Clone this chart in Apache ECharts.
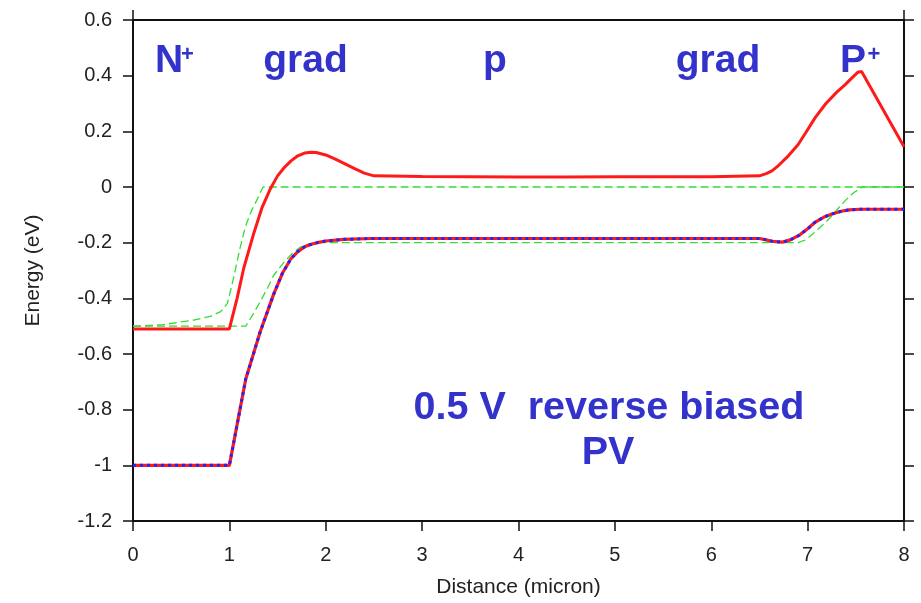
<!DOCTYPE html>
<html>
<head>
<meta charset="utf-8">
<title>Band diagram - 0.5 V reverse biased PV</title>
<script src="https://cdn.jsdelivr.net/npm/echarts@6/dist/echarts.min.js"></script>
<style>
  html, body { margin: 0; padding: 0; background: #fff; }
  #chart { width: 921px; height: 603px; }
</style>
</head>
<body>
<div id="chart"></div>
<script>
// Axis tick values
var xTicks = [0, 1, 2, 3, 4, 5, 6, 7, 8];
var yTicks = [-1.2, -1, -0.8, -0.6, -0.4, -0.2, 0, 0.2, 0.4, 0.6];

// Conduction band edge under bias (eV)
var ecX = [0, 1.0, 1.08, 1.15, 1.25, 1.34, 1.42, 1.5, 1.57, 1.64, 1.71, 1.78, 1.85, 1.9, 2.0, 2.1, 2.2, 2.3, 2.4, 2.5,
           3.0, 3.5, 4.0, 4.5, 5.0, 5.5, 6.0, 6.5, 6.57, 6.63, 6.7, 6.8, 6.9, 6.98, 7.08, 7.19, 7.3, 7.39, 7.46, 7.52, 7.56, 8.0];
var ecY = [-0.51, -0.51, -0.4, -0.29, -0.17, -0.073, -0.01, 0.04, 0.07, 0.094, 0.112, 0.122, 0.125, 0.124, 0.115, 0.1, 0.083, 0.066, 0.05, 0.04,
           0.038, 0.037, 0.036, 0.036, 0.037, 0.037, 0.037, 0.04, 0.048, 0.058, 0.078, 0.112, 0.152, 0.195, 0.25, 0.30, 0.34, 0.368, 0.392, 0.412, 0.415, 0.145];

// Valence band edge under bias (eV)
var evX = [0, 1.0, 1.17, 1.32, 1.46, 1.55, 1.64, 1.71, 1.78, 1.85, 1.91, 2.0, 2.19, 2.47, 3, 4, 5, 6, 6.5,
           6.57, 6.63, 6.74, 6.82, 6.91, 7.0, 7.08, 7.17, 7.26, 7.35, 7.43, 7.55, 8.0];
var evY = [-1.0, -1.0, -0.69, -0.52, -0.385, -0.31, -0.257, -0.232, -0.215, -0.206, -0.2, -0.194, -0.188, -0.185, -0.185, -0.185, -0.185, -0.185, -0.185,
           -0.19, -0.195, -0.198, -0.19, -0.174, -0.15, -0.126, -0.108, -0.096, -0.087, -0.082, -0.08, -0.08];

// Reference band edges (dashed)
var refUpX = [0, 0.3, 0.63, 0.8, 0.91, 0.98, 1.05, 1.11, 1.17, 1.23, 1.29, 1.35, 8];
var refUpY = [-0.5, -0.495, -0.478, -0.465, -0.448, -0.418, -0.317, -0.22, -0.138, -0.085, -0.043, 0, 0];
var refLoX = [0, 1.17, 1.25, 1.32, 1.4, 1.46, 1.57, 1.65, 1.74, 1.82, 1.9, 6.9, 6.98, 7.05, 7.12, 7.19, 7.26, 7.33, 7.39, 7.48, 7.57, 8];
var refLoY = [-0.5, -0.5, -0.455, -0.412, -0.36, -0.317, -0.269, -0.24, -0.215, -0.205, -0.2, -0.2, -0.19, -0.17, -0.148, -0.126, -0.1, -0.072, -0.049, -0.02, 0, 0];

function pairs(xs, ys) {
  return xs.map(function (x, i) { return [x, ys[i]]; });
}

var FONT = "'Liberation Sans', Arial, Helvetica, sans-serif";
var AXIS_COLOR = '#111';
var LABEL_COLOR = '#222';
var NOTE_COLOR = '#3333cc';
var RED = '#ff1a1a';
var BLUE = '#2222ff';
var GREEN = '#33dd33';

var chart = echarts.init(document.getElementById('chart'), null, { renderer: 'canvas' });

function axisCommon() {
  return {
    axisLine: { show: true, onZero: false, lineStyle: { color: AXIS_COLOR, width: 2 } },
    axisTick: { show: true, inside: false, length: 10, lineStyle: { color: AXIS_COLOR, width: 1.5 } },
    splitLine: { show: false }
  };
}

var xMin = xTicks[0], xMax = xTicks[xTicks.length - 1];
var yMin = yTicks[0], yMax = yTicks[yTicks.length - 1];

// Frame top edge: only the corner ticks overhang
var topAxis = Object.assign(axisCommon(), {
  type: 'value', position: 'top', min: xMin, max: xMax, interval: 1,
  axisLabel: { show: false }
});
topAxis.axisTick.customValues = [xMin, xMax];

var option = {
  animation: false,
  backgroundColor: '#fff',
  grid: { left: 133, right: 17, top: 20, bottom: 80 },
  xAxis: [
    Object.assign(axisCommon(), {
      type: 'value', position: 'bottom', min: xMin, max: xMax, interval: 1,
      axisLabel: { fontSize: 20, color: LABEL_COLOR, fontFamily: FONT, margin: 24 },
      name: 'Distance (micron)', nameLocation: 'middle', nameGap: 56,
      nameTextStyle: { fontSize: 21, color: LABEL_COLOR, fontFamily: FONT }
    }),
    topAxis
  ],
  yAxis: [
    Object.assign(axisCommon(), {
      type: 'value', position: 'left', min: yMin, max: yMax, interval: 0.2,
      axisLabel: {
        fontSize: 20, color: LABEL_COLOR, fontFamily: FONT, margin: 21,
        formatter: function (v) { return String(+(+v).toFixed(1)); }
      },
      name: 'Energy (eV)', nameLocation: 'middle', nameGap: 89,
      nameTextStyle: { fontSize: 21, color: LABEL_COLOR, fontFamily: FONT }
    }),
    Object.assign(axisCommon(), {
      type: 'value', position: 'right', min: yMin, max: yMax, interval: 0.2,
      axisLabel: { show: false }
    })
  ],
  series: [
    {
      name: 'Ec reference', type: 'line', data: pairs(refUpX, refUpY),
      showSymbol: false, lineStyle: { color: GREEN, width: 1.3, type: [8, 4] }, z: 2
    },
    {
      name: 'Ev reference', type: 'line', data: pairs(refLoX, refLoY),
      showSymbol: false, lineStyle: { color: GREEN, width: 1.3, type: [8, 4] }, z: 2
    },
    {
      name: 'Ec', type: 'line', data: pairs(ecX, ecY),
      showSymbol: false, lineStyle: { color: RED, width: 3 }, z: 3
    },
    {
      name: 'Ev', type: 'line', data: pairs(evX, evY),
      showSymbol: false, lineStyle: { color: RED, width: 3.2 }, z: 3
    },
    {
      name: 'Ev hole', type: 'line', data: pairs(evX, evY),
      showSymbol: false, lineStyle: { color: BLUE, width: 3, type: [3, 4] }, z: 4
    }
  ],
  graphic: [
    note('N', 155, 61, 39, 'left'),
    note('+', 187.5, 55, 22, 'center'),
    note('grad', 305.5, 61, 39, 'center'),
    note('p', 495, 61, 39, 'center'),
    note('grad', 718, 61, 39, 'center'),
    note('P', 840, 61, 39, 'left'),
    note('+', 874, 55, 22, 'center'),
    note('0.5 V  reverse biased', 609, 408, 39.5, 'center'),
    note('PV', 608, 453, 39.5, 'center')
  ]
};

function note(text, x, y, size, align) {
  return {
    type: 'text', x: x, y: y, z: 100,
    style: {
      text: text, fill: NOTE_COLOR, fontSize: size, fontWeight: 'bold', fontFamily: FONT,
      align: align, verticalAlign: 'middle'
    }
  };
}

chart.setOption(option);
</script>
</body>
</html>
